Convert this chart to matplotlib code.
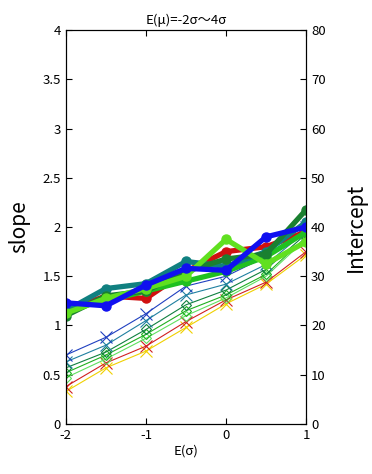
import matplotlib.pyplot as plt

plt.rcParams['font.family'] = ['Noto Sans CJK JP', 'DejaVu Sans']

# E(sigma) positions
e_sigma = [-2, -1.5, -1, -0.5, 0, 0.5, 1]

# slope series (thin lines, left axis)
slope_blue = [0.70, 0.88, 1.12, 1.40, 1.50, 1.70, 2.00]
slope_teal = [0.63, 0.80, 1.05, 1.31, 1.42, 1.62, 1.96]
slope_dgreen = [0.57, 0.73, 0.96, 1.21, 1.36, 1.57, 1.93]
slope_green = [0.52, 0.70, 0.91, 1.15, 1.31, 1.52, 1.90]
slope_lime = [0.47, 0.66, 0.87, 1.10, 1.28, 1.50, 1.88]
slope_red = [0.38, 0.62, 0.79, 1.04, 1.26, 1.44, 1.75]
slope_yellow = [0.33, 0.57, 0.74, 0.98, 1.22, 1.42, 1.72]

# intercept series (thick lines, right axis)
icpt_dgreen = [22.0, 26.0, 27.0, 31.0, 33.5, 34.5, 43.5]
icpt_teal = [23.0, 27.5, 28.5, 33.0, 32.0, 35.0, 41.0]
icpt_green = [23.5, 25.0, 27.0, 29.0, 31.0, 34.0, 39.0]
icpt_red = [23.0, 26.0, 25.5, 31.0, 35.0, 36.0, 39.0]
icpt_lime = [22.5, 25.5, 27.5, 30.0, 37.5, 32.5, 37.0]
icpt_blue = [24.6, 24.0, 28.2, 31.6, 31.2, 38.0, 40.0]

fig = plt.figure(figsize=(3.72, 4.74), dpi=100)
ax = fig.add_axes([0.177, 0.1055, 0.646, 0.8312])
ax2 = ax.twinx()

thin = [
    (slope_yellow, '#f0d000', 'x'),
    (slope_red, '#d02020', 'x'),
    (slope_lime, '#60e060', 'D'),
    (slope_green, '#20b020', 'D'),
    (slope_dgreen, '#108040', 'D'),
    (slope_teal, '#2080a0', 'x'),
    (slope_blue, '#2040c0', 'x'),
]
for vals, col, mk in thin:
    if mk == 'D':
        ax.plot(e_sigma, vals, color=col, lw=0.8, marker=mk, ms=5.5,
                mfc='none', mew=0.8)
    else:
        ax.plot(e_sigma, vals, color=col, lw=0.8, marker=mk, ms=8, mew=0.8)

thick = [
    (icpt_red, '#d01010'),
    (icpt_green, '#20c020'),
    (icpt_teal, '#108080'),
    (icpt_dgreen, '#1a8030'),
    (icpt_lime, '#60e020'),
    (icpt_blue, '#1010f0'),
]
for vals, col in thick:
    ax2.plot(e_sigma, vals, color=col, lw=3.8, marker='o', ms=6.5)

ax.set_xlim(-2, 1)
ax.set_ylim(0, 4)
ax2.set_ylim(0, 80)
ax.set_xticks([-2, -1, 0, 1])
ax.set_xticklabels(['-2', '-1', '0', '1'])
ax.set_yticks([0, 0.5, 1, 1.5, 2, 2.5, 3, 3.5, 4])
ax.set_yticklabels(['0', '0.5', '1', '1.5', '2', '2.5', '3', '3.5', '4'])
ax2.set_yticks(range(0, 81, 10))

ax.tick_params(direction='in', top=True, labelsize=9.5, length=4)
ax2.tick_params(direction='in', labelsize=9.5, length=4)

ax.set_xlabel('E(σ)', fontsize=9.5, labelpad=2)
ax.set_ylabel('slope', fontsize=15, labelpad=9)
ax2.set_ylabel('Intercept', fontsize=15, labelpad=14)
ax.set_title('E(μ)=-2σ〜4σ', fontsize=9.5, pad=4)

fig.savefig('out.png', dpi=100)
